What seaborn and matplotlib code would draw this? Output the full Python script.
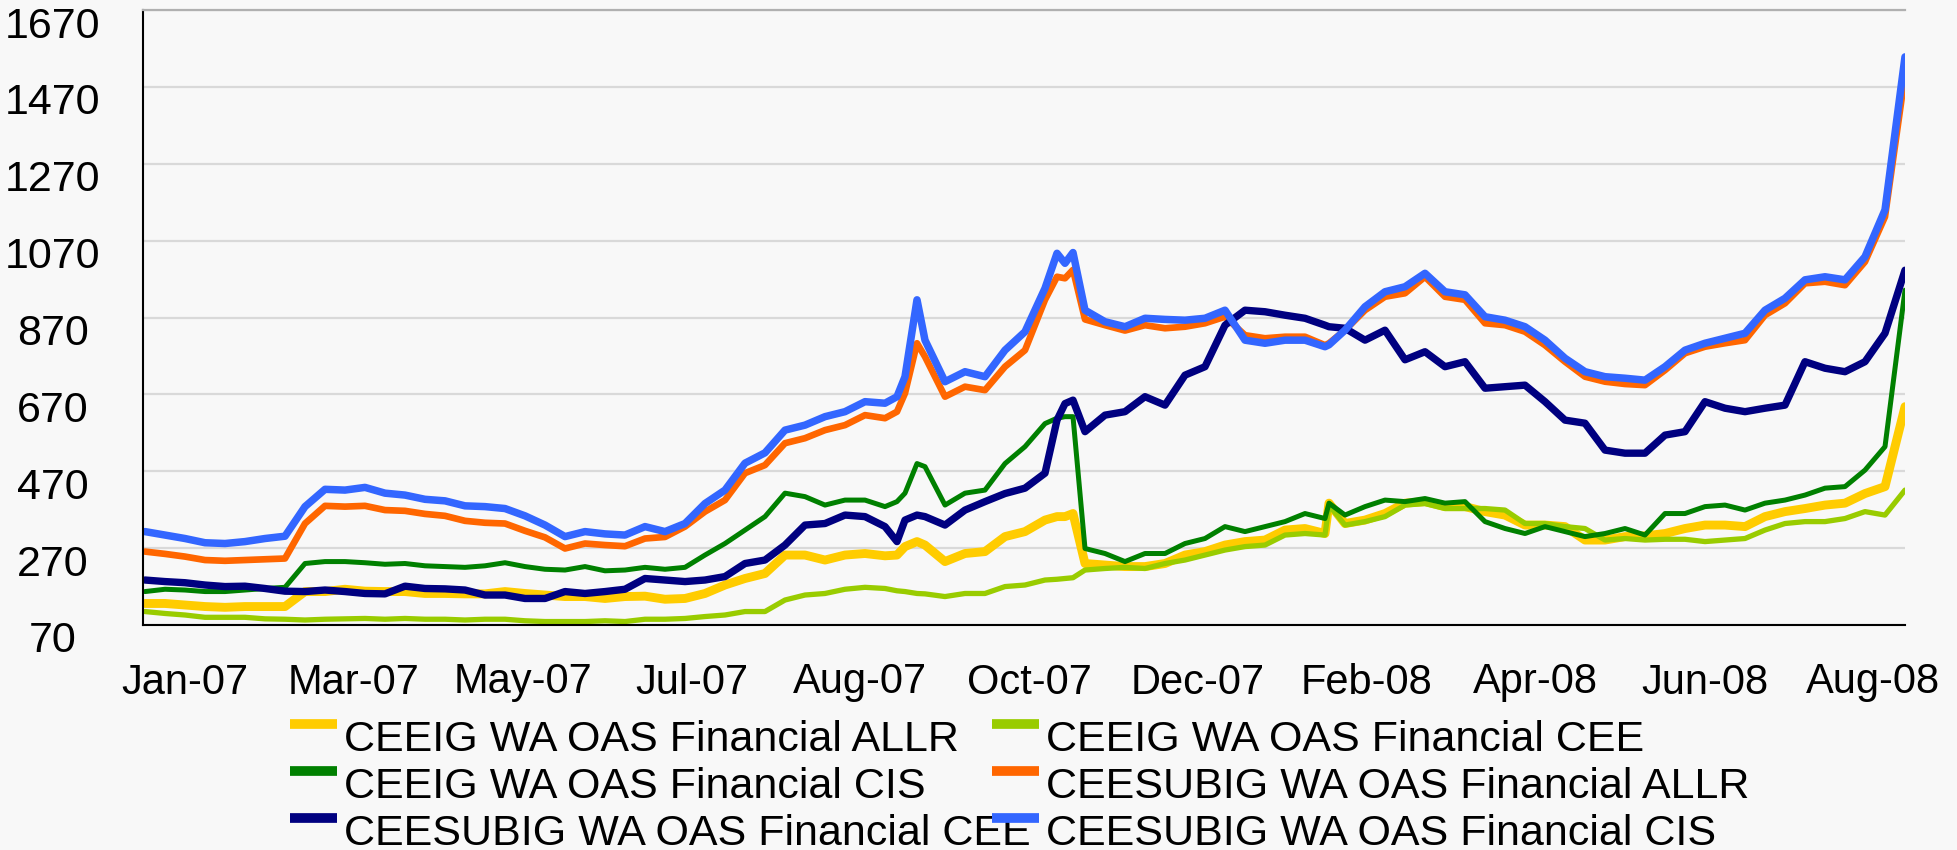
import numpy as np
import pandas as pd
import matplotlib
matplotlib.use("Agg")
import matplotlib.pyplot as plt
import matplotlib.transforms as mtransforms
from matplotlib.lines import Line2D
from matplotlib.legend_handler import HandlerLine2D
import seaborn as sns

# business-day index of the weekly samples (+ a few extra points at spikes)
days = sorted(list(range(0, 441, 5)) + [188, 193, 228, 232, 296])

month_labels = ["Jan-07", "Mar-07", "May-07", "Jul-07", "Aug-07", "Oct-07",
                "Dec-07", "Feb-08", "Apr-08", "Jun-08", "Aug-08"]

series_names = ["CEEIG WA OAS Financial ALLR", "CEEIG WA OAS Financial CEE",
                "CEEIG WA OAS Financial CIS", "CEESUBIG WA OAS Financial ALLR",
                "CEESUBIG WA OAS Financial CEE", "CEESUBIG WA OAS Financial CIS"]

ig_allr = [126, 126, 122, 118, 116, 118, 118, 118, 157, 157, 163, 158, 157, 157, 152,
           152, 151, 151, 157, 152, 148, 144, 144, 139, 144, 145, 137, 139, 152,
           174, 191, 204, 252, 252, 239, 252, 256, 250, 252, 274, 287, 278, 235, 256, 261, 300,
           313, 343, 352, 352, 360, 230, 226, 222, 222, 230, 252, 261, 278, 287, 291, 317,
           321, 308, 387, 334, 343, 360, 387, 391, 378, 378, 365, 356, 330, 330, 326, 291,
           291, 300, 302, 308, 321, 330, 330, 326, 352, 365, 373, 382, 387, 412, 430, 638]

ig_cee = [105, 100, 96, 90, 90, 90, 86, 85, 83, 85, 86, 87, 85, 87, 85,
          85, 83, 85, 85, 81, 79, 79, 79, 81, 79, 85, 85, 87, 92,
          96, 105, 105, 135, 148, 152, 163, 168, 165, 159, 157, 152, 151, 144, 152, 152, 170,
          174, 187, 189, 191, 193, 213, 217, 220, 217, 230, 239, 252, 265, 274, 278, 304,
          308, 304, 382, 330, 339, 352, 382, 386, 373, 373, 373, 369, 334, 334, 326, 321,
          291, 295, 291, 293, 293, 287, 291, 295, 317, 334, 339, 339, 347, 365, 356, 421]

ig_cis = [157, 163, 161, 157, 157, 161, 165, 168, 230, 235, 235, 232, 228, 230, 224,
          222, 220, 224, 232, 222, 215, 213, 222, 211, 213, 220, 215, 220, 252,
          282, 317, 352, 413, 404, 382, 395, 395, 378, 391, 413, 490, 482, 382, 413, 421, 490,
          534, 594, 608, 612, 612, 269, 256, 235, 256, 256, 282, 295, 326, 313, 326, 339,
          360, 347, 387, 356, 378, 395, 391, 399, 387, 391, 339, 321, 308, 326, 313, 300,
          308, 321, 304, 360, 360, 378, 382, 369, 387, 395, 408, 426, 430, 473, 534, 941]

sub_allr = [261, 255, 248, 239, 237, 239, 241, 243, 334, 380, 378, 380, 369, 367, 359,
            354, 341, 336, 334, 315, 298, 269, 282, 278, 275, 295, 299, 326, 365,
            395, 465, 486, 543, 556, 577, 590, 616, 608, 625, 673, 803, 768, 664, 690, 681, 742,
            785, 916, 976, 972, 994, 865, 850, 836, 850, 842, 846, 855, 872, 824, 816, 820,
            820, 798, 803, 837, 889, 924, 933, 976, 924, 916, 855, 850, 833, 798, 755, 716,
            703, 697, 694, 733, 777, 794, 803, 811, 876, 907, 959, 963, 954, 1015, 1132, 1501]

sub_cee = [187, 183, 180, 174, 170, 171, 165, 158, 157, 161, 157, 152, 151, 171, 165,
           164, 161, 148, 148, 139, 139, 157, 152, 157, 163, 191, 187, 183, 187,
           196, 230, 239, 278, 330, 334, 356, 352, 326, 287, 343, 356, 352, 330, 369, 391, 412,
           426, 465, 603, 646, 655, 573, 616, 625, 664, 642, 720, 742, 850, 889, 885, 876,
           868, 850, 846, 842, 811, 837, 760, 781, 742, 755, 686, 690, 694, 651, 603, 595,
           525, 517, 517, 564, 573, 651, 634, 625, 634, 642, 755, 738, 729, 755, 829, 993]

sub_cis = [313, 304, 295, 284, 282, 287, 295, 301, 378, 423, 421, 428, 413, 408, 397,
           393, 380, 378, 373, 354, 330, 300, 313, 307, 304, 326, 313, 334, 386,
           421, 491, 518, 577, 590, 612, 625, 651, 647, 664, 716, 916, 811, 703, 729, 716, 785,
           833, 946, 1037, 1011, 1039, 889, 859, 846, 868, 865, 863, 868, 889, 811, 803, 811,
           811, 794, 799, 837, 898, 937, 950, 985, 937, 929, 872, 863, 846, 811, 764, 729,
           716, 712, 707, 742, 785, 803, 816, 829, 889, 920, 968, 976, 968, 1028, 1150, 1548]

colors = ["#FFCC00", "#99CC00", "#008000", "#FF6600", "#000080", "#3366FF"]
widths = [6.4, 3.8, 3.6, 4.8, 5.3, 5.4]

df = pd.DataFrame({"day": days})
for name, vals in zip(series_names, [ig_allr, ig_cee, ig_cis, sub_allr, sub_cee, sub_cis]):
    df[name] = vals

sns.set_theme(style="white")
plt.rcParams["font.family"] = ["Liberation Sans", "DejaVu Sans"]
plt.rcParams["text.color"] = "black"
plt.rcParams["xtick.color"] = "black"
plt.rcParams["ytick.color"] = "black"

bg = "#F8F8F8"
fig = plt.figure(figsize=(19.57, 8.5), dpi=100, facecolor=bg)
ax = fig.add_axes([143 / 1957, 1 - 625 / 850, 1762 / 1957, 615 / 850])
ax.set_facecolor(bg)

for name, c, lw in zip(series_names, colors, widths):
    sns.lineplot(data=df, x="day", y=name, color=c, linewidth=lw, ax=ax,
                 legend=False, solid_joinstyle="round", solid_capstyle="round")

ax.set_xlim(-0.5, 440)
ax.set_ylim(70, 1670)
ax.set_yticks(np.arange(70, 1671, 200))
ax.yaxis.grid(True, color="#D9D9D9", linewidth=1.6)
ax.set_axisbelow(True)
ax.set_xlabel("")
ax.set_ylabel("")

# ticks between the categories, labels every second interval
step = 21.1
ax.set_xticks([-0.5 + step * t for t in range(21)], minor=True)
ax.set_xticks([-0.5 + step * (2 * j + 0.5) for j in range(len(month_labels))])
ax.set_xticklabels(month_labels)
ax.tick_params(axis="x", which="major", length=0, pad=27, labelsize=30, labelcolor="black")
ax.tick_params(axis="x", which="minor", length=7, width=1.2, color="#404040", direction="out")
ax.tick_params(axis="y", length=7, width=1.2, color="#404040", direction="out",
               pad=58, labelsize=31, labelcolor="black")
for lab in ax.get_yticklabels():
    lab.set_horizontalalignment("center")
    lab.set_transform(lab.get_transform() +
                      mtransforms.ScaledTranslation(0, -0.12, fig.dpi_scale_trans))

for s in ["left", "bottom"]:
    ax.spines[s].set_color("black")
    ax.spines[s].set_linewidth(1.5)
ax.spines["right"].set_visible(False)
ax.spines["top"].set_color("#B0B0B0")
ax.spines["top"].set_linewidth(1.6)


class RaisedLine(HandlerLine2D):
    def create_artists(self, legend, orig_handle, xdescent, ydescent, width, height,
                       fontsize, trans):
        arts = super().create_artists(legend, orig_handle, xdescent, ydescent, width,
                                      height, fontsize, trans)
        for a in arts:
            a.set_ydata(np.asarray(a.get_ydata()) + height * 0.4)
        return arts


# legend is filled column by column, the reference reads row by row
order = [0, 2, 4, 1, 3, 5]
handles = [Line2D([0], [0], color=colors[i], linewidth=7, solid_capstyle="butt") for i in order]
labels = [series_names[i] for i in order]
fig.legend(handles, labels, loc="upper left", bbox_to_anchor=(290 / 1957, 1 - 720 / 850),
           ncol=2, frameon=False, fontsize=31, handlelength=1.1, handletextpad=0.15,
           labelspacing=0.16, columnspacing=-0.9, borderpad=0, borderaxespad=0,
           handler_map={Line2D: RaisedLine()})

fig.savefig("out.png", dpi=100, facecolor=bg)
